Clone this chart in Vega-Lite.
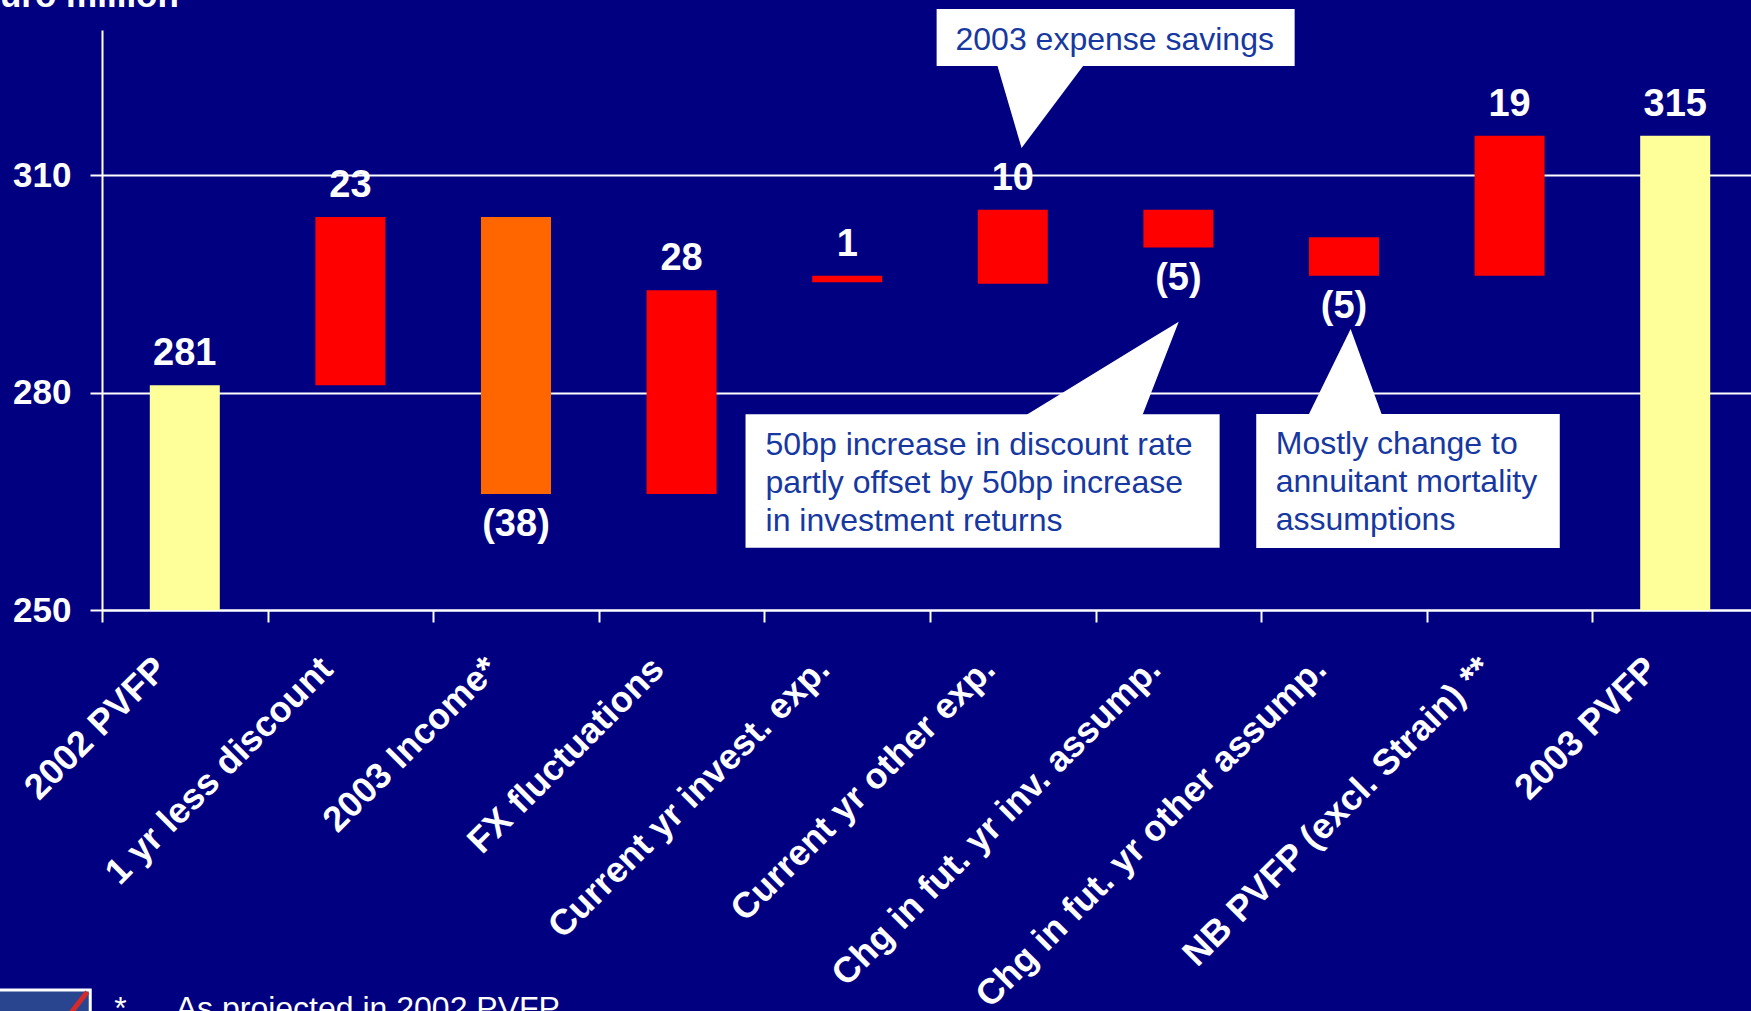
{
  "$schema": "https://vega.github.io/schema/vega-lite/v6.json",
  "autosize": {"type": "none"},
  "padding": {"left": 102, "top": 30, "right": 0, "bottom": 401},
  "width": 1649,
  "height": 580,
  "background": "#000080",
  "config": {"view": {"stroke": null}, "font": "Liberation Sans", "axis": {"labelFont": "Liberation Sans"}},
  "datasets": {
    "bars": [
      {"cat": "2002 PVFP", "lo": 250, "hi": 281.0, "kind": "total", "dir": "up", "label": "281"},
      {"cat": "1 yr less discount", "lo": 281.0, "hi": 304.2, "kind": "change", "dir": "up", "label": "23"},
      {"cat": "2003 Income*", "lo": 266.0, "hi": 304.2, "kind": "income", "dir": "down", "label": "(38)"},
      {"cat": "FX fluctuations", "lo": 266.0, "hi": 294.1, "kind": "change", "dir": "up", "label": "28"},
      {"cat": "Current yr invest. exp.", "lo": 295.2, "hi": 296.1, "kind": "change", "dir": "up", "label": "1"},
      {"cat": "Current yr other exp.", "lo": 295.0, "hi": 305.2, "kind": "change", "dir": "up", "label": "10"},
      {"cat": "Chg in fut. yr inv. assump.", "lo": 300.0, "hi": 305.2, "kind": "change", "dir": "down", "label": "(5)"},
      {"cat": "Chg in fut. yr other assump.", "lo": 296.1, "hi": 301.4, "kind": "change", "dir": "down", "label": "(5)"},
      {"cat": "NB PVFP (excl. Strain) **", "lo": 296.1, "hi": 315.4, "kind": "change", "dir": "up", "label": "19"},
      {"cat": "2003 PVFP", "lo": 250, "hi": 315.4, "kind": "total", "dir": "up", "label": "315"}
    ],
    "boxes": [
      {"x1": 5.040, "x2": 7.202, "y1": 325.03, "y2": 332.9},
      {"x1": 3.886, "x2": 6.749, "y1": 258.59, "y2": 276.99},
      {"x1": 6.970, "x2": 8.803, "y1": 258.55, "y2": 277.03}
    ],
    "pointers": [
      {"g": "a", "x": 5.402, "y": 325.5, "y2": 325.5},
      {"g": "a", "x": 5.553, "y": 313.72, "y2": 325.5},
      {"g": "a", "x": 5.939, "y": 325.5, "y2": 325.5},
      {"g": "b", "x": 5.559, "y": 276.6, "y2": 276.6},
      {"g": "b", "x": 6.278, "y": 286.64, "y2": 276.6},
      {"g": "b", "x": 6.502, "y": 289.77, "y2": 289.77},
      {"g": "c", "x": 7.279, "y": 276.6, "y2": 276.6},
      {"g": "c", "x": 7.540, "y": 288.76, "y2": 276.6},
      {"g": "c", "x": 7.734, "y": 276.6, "y2": 276.6}
    ],
    "callouts": [
      {"x": 5.154, "y": 328.6, "text": "2003 expense savings"},
      {"x": 4.007, "y": 272.69, "text": "50bp increase in discount rate\npartly offset by 50bp increase\nin investment returns"},
      {"x": 7.088, "y": 272.9, "text": "Mostly change to\nannuitant mortality\nassumptions"}
    ],
    "notes": [
      {"x": 0.074, "y": 193.6, "text": "*"},
      {"x": 0.445, "y": 193.6, "text": "As projected in 2002 PVFP"}
    ],
    "unit": [
      {"x": -0.757, "y": 333.17, "text": "Euro million"}
    ],
    "logo": [
      {"x1": -0.70, "x2": -0.071, "y1": 185, "y2": 197.59}
    ],
    "stripe": [
      {"x1": -0.089, "x2": -0.222, "y1": 197.3, "y2": 193.45}
    ]
  },
  "layer": [
    {
      "layer": [
        {
          "data": {"name": "bars"},
          "mark": {"type": "bar", "width": 70},
          "encoding": {
            "x": {
              "field": "cat", "type": "nominal", "sort": null,
              "scale": {"domain": ["2002 PVFP", "1 yr less discount", "2003 Income*", "FX fluctuations", "Current yr invest. exp.", "Current yr other exp.", "Chg in fut. yr inv. assump.", "Chg in fut. yr other assump.", "NB PVFP (excl. Strain) **", "2003 PVFP"], "range": [0, 1656], "paddingInner": 0, "paddingOuter": 0},
              "axis": {
                "title": null, "grid": false,
                "domain": true, "domainColor": "white", "domainWidth": 2,
                "ticks": true, "tickColor": "white", "tickWidth": 2, "tickSize": 12, "tickBand": "extent",
                "labelAngle": -45, "labelAlign": "right", "labelBaseline": "top",
                "labelFontSize": 36, "labelFontWeight": "bold", "labelColor": "white",
                "labelPadding": 29, "labelOffset": -36, "labelLimit": 1000, "labelOverlap": false, "labelBound": false
              }
            },
            "y": {
              "field": "lo", "type": "quantitative",
              "scale": {"domain": [250, 330], "nice": false, "zero": false},
              "axis": {
                "title": null, "values": [250, 280, 310],
                "grid": true, "gridColor": "white", "gridWidth": 2, "gridOpacity": 1,
                "domain": true, "domainColor": "white", "domainWidth": 2,
                "ticks": true, "tickColor": "white", "tickWidth": 2, "tickSize": 12,
                "labelFontSize": 35, "labelFontWeight": "bold", "labelColor": "white", "labelPadding": 19
              }
            },
            "y2": {"field": "hi"},
            "color": {
              "field": "kind", "type": "nominal",
              "scale": {"domain": ["total", "income", "change"], "range": ["#FFFF99", "#FF6600", "#FF0000"]},
              "legend": null
            }
          }
        },
        {
          "data": {"name": "bars"},
          "transform": [{"filter": {"field": "dir", "equal": "up"}}],
          "mark": {"type": "text", "baseline": "alphabetic", "align": "center", "dy": -20, "fontSize": 38, "fontWeight": "bold", "color": "white"},
          "encoding": {
            "x": {"field": "cat", "type": "nominal", "sort": null},
            "y": {"field": "hi", "type": "quantitative", "scale": {"domain": [250, 330]}},
            "text": {"field": "label"}
          }
        },
        {
          "data": {"name": "bars"},
          "transform": [{"filter": {"field": "dir", "equal": "down"}}],
          "mark": {"type": "text", "baseline": "top", "align": "center", "dy": 12, "fontSize": 38, "fontWeight": "bold", "color": "white"},
          "encoding": {
            "x": {"field": "cat", "type": "nominal", "sort": null},
            "y": {"field": "lo", "type": "quantitative", "scale": {"domain": [250, 330]}},
            "text": {"field": "label"}
          }
        }
      ]
    },
    {
      "layer": [
        {
          "data": {"name": "boxes"},
          "mark": {"type": "rect", "color": "white"},
          "encoding": {
            "x": {"field": "x1", "type": "quantitative", "scale": {"domain": [0, 10], "range": [0, 1656], "nice": false, "zero": false}, "axis": null},
            "x2": {"field": "x2"},
            "y": {"field": "y1", "type": "quantitative", "scale": {"domain": [250, 330]}},
            "y2": {"field": "y2"}
          }
        },
        {
          "data": {"name": "pointers"},
          "mark": {"type": "area", "color": "white", "interpolate": "linear", "opacity": 1},
          "encoding": {
            "x": {"field": "x", "type": "quantitative", "scale": {"domain": [0, 10], "range": [0, 1656], "nice": false, "zero": false}, "axis": null},
            "y": {"field": "y", "type": "quantitative", "scale": {"domain": [250, 330]}},
            "y2": {"field": "y2"},
            "detail": {"field": "g"}
          }
        },
        {
          "data": {"name": "callouts"},
          "mark": {"type": "text", "align": "left", "baseline": "middle", "fontSize": 32, "lineHeight": 38, "lineBreak": "\n", "color": "#1638a0"},
          "encoding": {
            "x": {"field": "x", "type": "quantitative", "scale": {"domain": [0, 10], "range": [0, 1656], "nice": false, "zero": false}, "axis": null},
            "y": {"field": "y", "type": "quantitative", "scale": {"domain": [250, 330]}},
            "text": {"field": "text"}
          }
        },
        {
          "data": {"name": "unit"},
          "mark": {"type": "text", "align": "left", "baseline": "alphabetic", "fontSize": 35, "fontWeight": "bold", "color": "white"},
          "encoding": {
            "x": {"field": "x", "type": "quantitative", "scale": {"domain": [0, 10], "range": [0, 1656], "nice": false, "zero": false}, "axis": null},
            "y": {"field": "y", "type": "quantitative", "scale": {"domain": [250, 330]}},
            "text": {"field": "text"}
          }
        },
        {
          "data": {"name": "notes"},
          "mark": {"type": "text", "align": "left", "baseline": "alphabetic", "fontSize": 32, "color": "white"},
          "encoding": {
            "x": {"field": "x", "type": "quantitative", "scale": {"domain": [0, 10], "range": [0, 1656], "nice": false, "zero": false}, "axis": null},
            "y": {"field": "y", "type": "quantitative", "scale": {"domain": [250, 330]}},
            "text": {"field": "text"}
          }
        },
        {
          "data": {"name": "logo"},
          "mark": {"type": "rect", "fill": "#2a4590", "stroke": "white", "strokeWidth": 3},
          "encoding": {
            "x": {"field": "x1", "type": "quantitative", "scale": {"domain": [0, 10], "range": [0, 1656], "nice": false, "zero": false}, "axis": null},
            "x2": {"field": "x2"},
            "y": {"field": "y1", "type": "quantitative", "scale": {"domain": [250, 330]}},
            "y2": {"field": "y2"}
          }
        },
        {
          "data": {"name": "stripe"},
          "mark": {"type": "rule", "color": "#d42a2a", "strokeWidth": 5},
          "encoding": {
            "x": {"field": "x1", "type": "quantitative", "scale": {"domain": [0, 10], "range": [0, 1656], "nice": false, "zero": false}, "axis": null},
            "x2": {"field": "x2"},
            "y": {"field": "y1", "type": "quantitative", "scale": {"domain": [250, 330]}},
            "y2": {"field": "y2"}
          }
        }
      ]
    }
  ],
  "resolve": {"scale": {"x": "independent"}}
}
